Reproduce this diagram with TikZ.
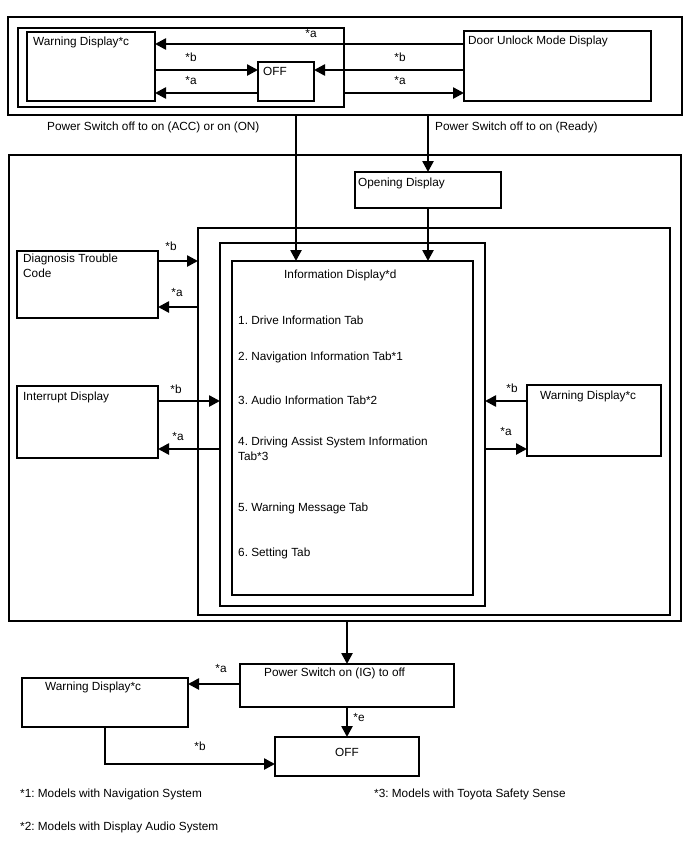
\documentclass[tikz,border=0pt]{standalone}
\usepackage{fontspec}
\setmainfont{Liberation Sans}
\usetikzlibrary{arrows.meta}
\begin{document}
\frenchspacing
\begin{tikzpicture}[x=1pt,y=-1pt,
  box/.style={draw, line width=1.5pt, inner sep=0pt, outer sep=0pt, anchor=north west},
  arr/.style={line width=2.5pt, -{Triangle[length=11pt,width=11pt]}},
  txt/.style={inner sep=0pt, anchor=north west, font=\fontsize{11.8}{15}\selectfont, align=left},
  lbl/.style={inner sep=0pt, font=\fontsize{11.8}{14}\selectfont}]
\useasboundingbox (0,0) rectangle (688,852);
% ---------- top group ----------
\node[box, minimum width=674pt, minimum height=98pt] (topframe) at (8,17) {};
\node[box, minimum width=326pt, minimum height=79pt] (leftgrp) at (18,28) {};
\node[box, minimum width=128pt, minimum height=69pt] (wd1) at (27,32) {};
\node[txt] (wd1t) at (33,37) {Warning Display*c};
\node[box, minimum width=56pt, minimum height=39pt] (off1) at (258,62) {};
\node[txt] (off1t) at (263,67) {OFF};
\node[box, minimum width=187pt, minimum height=70pt] (du) at (464,31) {};
\node[txt] (dut) at (468,36) {Door Unlock Mode Display};

\draw[arr] ([yshift=-13pt]du.north west) -- ([yshift=-12pt]wd1.north east);
\node[lbl] (l1) at (311,33) {*a};
\draw[arr] ([yshift=-38pt]wd1.north east) -- ([yshift=-8pt]off1.north west);
\node[lbl] (l2) at (191,57) {*b};
\draw[arr] ([yshift=-31pt]off1.north west) -- ([yshift=-61pt]wd1.north east);
\node[lbl] (l3) at (191,80) {*a};
\draw[arr] ([yshift=-39pt]du.north west) -- ([yshift=-8pt]off1.north east);
\node[lbl] (l4) at (400,57) {*b};
\draw[arr] ([yshift=-65pt]leftgrp.north east) -- ([yshift=-62pt]du.north west);
\node[lbl] (l5) at (400,80) {*a};

\node[txt] (ps1t) at (47,122) {Power Switch off to on (ACC) or on (ON)};
\node[txt] (ps2t) at (435,122) {Power Switch off to on (Ready)};

% ---------- middle group ----------
\node[box, minimum width=672pt, minimum height=466pt] (bigframe) at (9,155) {};
\node[box, minimum width=146pt, minimum height=36pt] (opening) at (355,172) {};
\node[txt] (opent) at (358,178) {Opening Display};
\node[box, minimum width=472pt, minimum height=387pt] (frame2) at (198,228) {};
\node[box, minimum width=265pt, minimum height=363pt] (frame3) at (220,243) {};
\node[box, minimum width=241pt, minimum height=334pt] (infod) at (232,261) {};
\node[txt] (infot) at (284,270) {Information Display*d};
\node[txt] (it1) at (238,316) {1. Drive Information Tab};
\node[txt] (it2) at (238,352) {2. Navigation Information Tab*1};
\node[txt] (it3) at (238,396) {3. Audio Information Tab*2};
\node[txt] (it4) at (238,437) {4. Driving Assist System Information\\Tab*3};
\node[txt] (it5) at (238,503) {5. Warning Message Tab};
\node[txt] (it6) at (238,548) {6. Setting Tab};

\coordinate (ps1) at ([xshift=64pt]infod.north west);
\draw[arr] (ps1 |- topframe.south) -- (ps1);
\draw[arr] (opening.north |- topframe.south) -- (opening.north);
\draw[arr] (opening.south) -- (opening.south |- infod.north);

\node[box, minimum width=141pt, minimum height=67pt] (dtc) at (17,251) {};
\node[txt] (dtct) at (23,254) {Diagnosis Trouble\\Code};
\coordinate (d1) at ([yshift=-10pt]dtc.north east);
\draw[arr] (d1) -- (d1 -| frame2.west);
\node[lbl] (l6) at (171,246) {*b};
\coordinate (d2) at ([yshift=-56pt]dtc.north east);
\draw[arr] (d2 -| frame2.west) -- (d2);
\node[lbl] (l7) at (177,292) {*a};

\node[box, minimum width=141pt, minimum height=72pt] (intd) at (17,386) {};
\node[txt] (intdt) at (23,392) {Interrupt Display};
\coordinate (i1) at ([yshift=-15pt]intd.north east);
\draw[arr] (i1) -- (i1 -| frame3.west);
\node[lbl] (l8) at (176,389) {*b};
\coordinate (i2) at ([yshift=-63pt]intd.north east);
\draw[arr] (i2 -| frame3.west) -- (i2);
\node[lbl] (l9) at (178,436) {*a};

\node[box, minimum width=134pt, minimum height=71pt] (wd2) at (527,385) {};
\node[txt] (wd2t) at (540,391) {Warning Display*c};
\coordinate (w1) at ([yshift=-16pt]wd2.north west);
\draw[arr] (w1) -- (w1 -| frame3.east);
\node[lbl] (l10) at (512,388) {*b};
\coordinate (w2) at ([yshift=-64pt]wd2.north west);
\draw[arr] (w2 -| frame3.east) -- (w2);
\node[lbl] (l11) at (506,431) {*a};

% ---------- bottom group ----------
\node[box, minimum width=214pt, minimum height=43pt] (psig) at (240,664) {};
\node[txt] (psigt) at (264,668) {Power Switch on (IG) to off};
\draw[arr] (psig.north |- bigframe.south) -- (psig.north);
\node[box, minimum width=166pt, minimum height=49pt] (wd3) at (22,678) {};
\node[txt] (wd3t) at (45,682) {Warning Display*c};
\coordinate (p1) at ([yshift=-20pt]psig.north west);
\draw[arr] (p1) -- (p1 -| wd3.east);
\node[lbl] (l12) at (221,668) {*a};
\node[box, minimum width=144pt, minimum height=39pt] (off2) at (275,737) {};
\node[lbl] (off2t) at ([yshift=-15pt]off2.north) {OFF};
\draw[arr] (psig.south) -- (off2.north);
\node[lbl] (l13) at (359,717) {*e};
\coordinate (b1) at ([yshift=-27pt]off2.north west);
\draw[arr] (wd3.south) |- (b1);
\node[lbl] (l14) at (200,746) {*b};

\node[txt] (fn1) at (20,789) {*1: Models with Navigation System};
\node[txt] (fn3) at (374,789) {*3: Models with Toyota Safety Sense};
\node[txt] (fn2) at (20,822) {*2: Models with Display Audio System};
\end{tikzpicture}
\end{document}
